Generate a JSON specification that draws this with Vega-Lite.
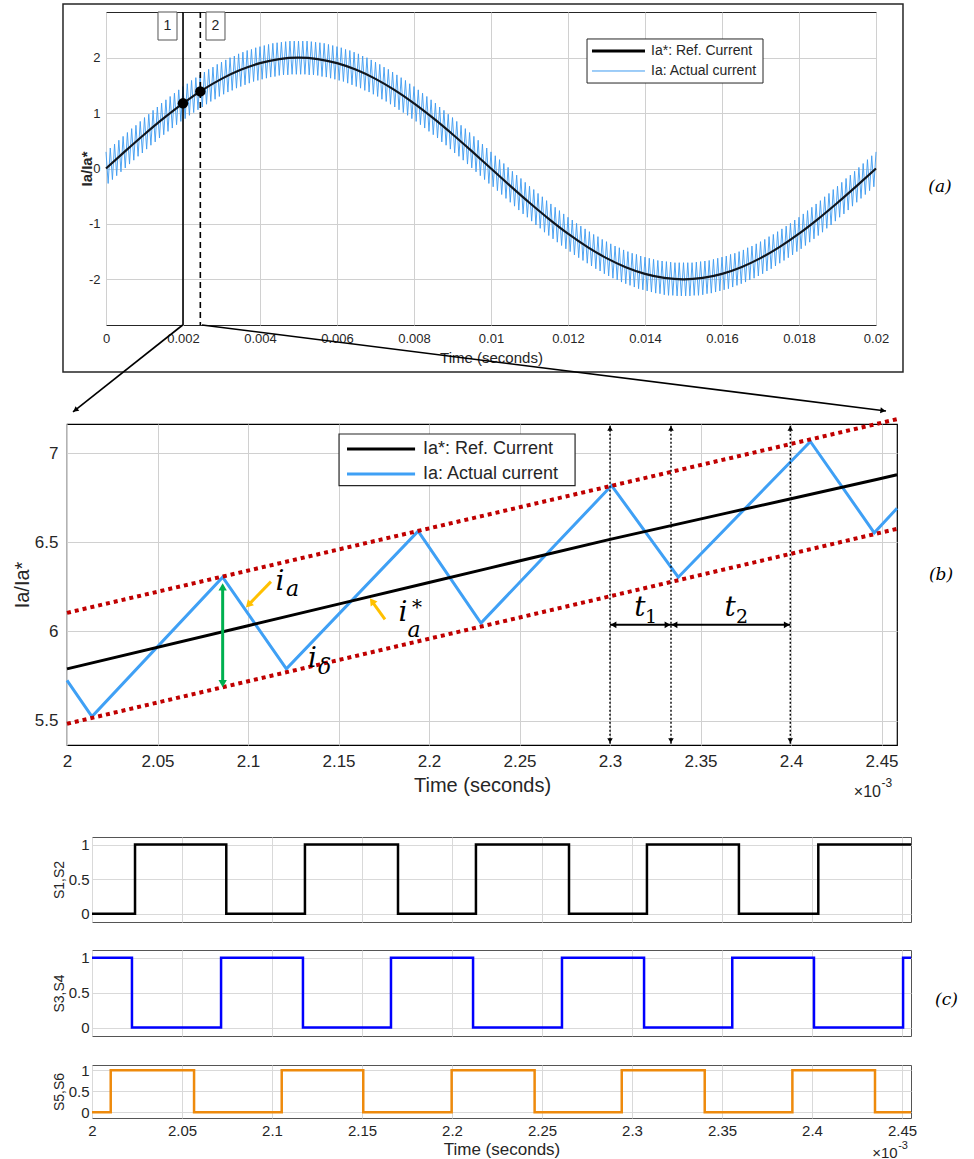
{
"$schema": "https://vega.github.io/schema/vega-lite/v6.json",
"background": "white",
"padding": 0,
"spacing": 0,
"config": {
  "font": "Liberation Sans",
  "axis": {"labelFont": "Liberation Sans", "titleFont": "Liberation Sans", "labelColor": "#262626", "titleColor": "#262626", "titleFontWeight": "normal", "gridColor": "#d0d0d0", "gridWidth": 1, "ticks": false, "domain": false, "labelFlush": false, "labelOverlap": false}
},
"datasets": {
  "aIa": [{"t":0,"v":0.3},{"t":0.0000556,"v":-0.27},{"t":0.0001111,"v":0.37},{"t":0.0001667,"v":-0.2},{"t":0.0002222,"v":0.44},{"t":0.0002778,"v":-0.13},{"t":0.0003333,"v":0.51},{"t":0.0003889,"v":-0.06},{"t":0.0004444,"v":0.58},{"t":0.0005,"v":0.01},{"t":0.0005556,"v":0.65},{"t":0.0006111,"v":0.08},{"t":0.0006667,"v":0.72},{"t":0.0007222,"v":0.15},{"t":0.0007778,"v":0.78},{"t":0.0008333,"v":0.22},{"t":0.0008889,"v":0.85},{"t":0.0009444,"v":0.28},
{"t":0.001,"v":0.92},{"t":0.0010556,"v":0.35},{"t":0.0011111,"v":0.98},{"t":0.0011667,"v":0.42},{"t":0.0012222,"v":1.05},{"t":0.0012778,"v":0.48},{"t":0.0013333,"v":1.11},{"t":0.0013889,"v":0.55},{"t":0.0014444,"v":1.18},{"t":0.0015,"v":0.61},{"t":0.0015556,"v":1.24},{"t":0.0016111,"v":0.67},{"t":0.0016667,"v":1.3},{"t":0.0017222,"v":0.73},{"t":0.0017778,"v":1.36},{"t":0.0018333,"v":0.79},{"t":0.0018889,"v":1.42},{"t":0.0019444,"v":0.85},
{"t":0.002,"v":1.48},{"t":0.0020556,"v":0.9},{"t":0.0021111,"v":1.53},{"t":0.0021667,"v":0.96},{"t":0.0022222,"v":1.59},{"t":0.0022778,"v":1.01},{"t":0.0023333,"v":1.64},{"t":0.0023889,"v":1.06},{"t":0.0024444,"v":1.69},{"t":0.0025,"v":1.11},{"t":0.0025556,"v":1.74},{"t":0.0026111,"v":1.16},{"t":0.0026667,"v":1.79},{"t":0.0027222,"v":1.21},{"t":0.0027778,"v":1.83},{"t":0.0028333,"v":1.25},{"t":0.0028889,"v":1.88},{"t":0.0029444,"v":1.3},
{"t":0.003,"v":1.92},{"t":0.0030556,"v":1.34},{"t":0.0031111,"v":1.96},{"t":0.0031667,"v":1.38},{"t":0.0032222,"v":2.0},{"t":0.0032778,"v":1.41},{"t":0.0033333,"v":2.03},{"t":0.0033889,"v":1.45},{"t":0.0034444,"v":2.07},{"t":0.0035,"v":1.48},{"t":0.0035556,"v":2.1},{"t":0.0036111,"v":1.51},{"t":0.0036667,"v":2.13},{"t":0.0037222,"v":1.54},{"t":0.0037778,"v":2.15},{"t":0.0038333,"v":1.57},{"t":0.0038889,"v":2.18},{"t":0.0039444,"v":1.59},
{"t":0.004,"v":2.2},{"t":0.0040556,"v":1.61},{"t":0.0041111,"v":2.22},{"t":0.0041667,"v":1.63},{"t":0.0042222,"v":2.24},{"t":0.0042778,"v":1.65},{"t":0.0043333,"v":2.26},{"t":0.0043889,"v":1.66},{"t":0.0044444,"v":2.27},{"t":0.0045,"v":1.68},{"t":0.0045556,"v":2.28},{"t":0.0046111,"v":1.69},{"t":0.0046667,"v":2.29},{"t":0.0047222,"v":1.69},{"t":0.0047778,"v":2.3},{"t":0.0048333,"v":1.7},{"t":0.0048889,"v":2.3},{"t":0.0049444,"v":1.7},
{"t":0.005,"v":2.3},{"t":0.0050556,"v":1.7},{"t":0.0051111,"v":2.3},{"t":0.0051667,"v":1.7},{"t":0.0052222,"v":2.3},{"t":0.0052778,"v":1.69},{"t":0.0053333,"v":2.29},{"t":0.0053889,"v":1.69},{"t":0.0054444,"v":2.28},{"t":0.0055,"v":1.68},{"t":0.0055556,"v":2.27},{"t":0.0056111,"v":1.66},{"t":0.0056667,"v":2.26},{"t":0.0057222,"v":1.65},{"t":0.0057778,"v":2.24},{"t":0.0058333,"v":1.63},{"t":0.0058889,"v":2.22},{"t":0.0059444,"v":1.61},
{"t":0.006,"v":2.2},{"t":0.0060556,"v":1.59},{"t":0.0061111,"v":2.18},{"t":0.0061667,"v":1.57},{"t":0.0062222,"v":2.15},{"t":0.0062778,"v":1.54},{"t":0.0063333,"v":2.13},{"t":0.0063889,"v":1.51},{"t":0.0064444,"v":2.1},{"t":0.0065,"v":1.48},{"t":0.0065556,"v":2.07},{"t":0.0066111,"v":1.45},{"t":0.0066667,"v":2.03},{"t":0.0067222,"v":1.41},{"t":0.0067778,"v":2.0},{"t":0.0068333,"v":1.38},{"t":0.0068889,"v":1.96},{"t":0.0069444,"v":1.34},
{"t":0.007,"v":1.92},{"t":0.0070556,"v":1.3},{"t":0.0071111,"v":1.88},{"t":0.0071667,"v":1.25},{"t":0.0072222,"v":1.83},{"t":0.0072778,"v":1.21},{"t":0.0073333,"v":1.79},{"t":0.0073889,"v":1.16},{"t":0.0074444,"v":1.74},{"t":0.0075,"v":1.11},{"t":0.0075556,"v":1.69},{"t":0.0076111,"v":1.06},{"t":0.0076667,"v":1.64},{"t":0.0077222,"v":1.01},{"t":0.0077778,"v":1.59},{"t":0.0078333,"v":0.96},{"t":0.0078889,"v":1.53},{"t":0.0079444,"v":0.9},
{"t":0.008,"v":1.48},{"t":0.0080556,"v":0.85},{"t":0.0081111,"v":1.42},{"t":0.0081667,"v":0.79},{"t":0.0082222,"v":1.36},{"t":0.0082778,"v":0.73},{"t":0.0083333,"v":1.3},{"t":0.0083889,"v":0.67},{"t":0.0084444,"v":1.24},{"t":0.0085,"v":0.61},{"t":0.0085556,"v":1.18},{"t":0.0086111,"v":0.55},{"t":0.0086667,"v":1.11},{"t":0.0087222,"v":0.48},{"t":0.0087778,"v":1.05},{"t":0.0088333,"v":0.42},{"t":0.0088889,"v":0.98},{"t":0.0089444,"v":0.35},
{"t":0.009,"v":0.92},{"t":0.0090556,"v":0.28},{"t":0.0091111,"v":0.85},{"t":0.0091667,"v":0.22},{"t":0.0092222,"v":0.78},{"t":0.0092778,"v":0.15},{"t":0.0093333,"v":0.72},{"t":0.0093889,"v":0.08},{"t":0.0094444,"v":0.65},{"t":0.0095,"v":0.01},{"t":0.0095556,"v":0.58},{"t":0.0096111,"v":-0.06},{"t":0.0096667,"v":0.51},{"t":0.0097222,"v":-0.13},{"t":0.0097778,"v":0.44},{"t":0.0098333,"v":-0.2},{"t":0.0098889,"v":0.37},{"t":0.0099444,"v":-0.27},
{"t":0.01,"v":0.3},{"t":0.0100556,"v":-0.33},{"t":0.0101111,"v":0.23},{"t":0.0101667,"v":-0.4},{"t":0.0102222,"v":0.16},{"t":0.0102778,"v":-0.47},{"t":0.0103333,"v":0.09},{"t":0.0103889,"v":-0.54},{"t":0.0104444,"v":0.02},{"t":0.0105,"v":-0.61},{"t":0.0105556,"v":-0.05},{"t":0.0106111,"v":-0.68},{"t":0.0106667,"v":-0.12},{"t":0.0107222,"v":-0.75},{"t":0.0107778,"v":-0.18},{"t":0.0108333,"v":-0.82},{"t":0.0108889,"v":-0.25},{"t":0.0109444,"v":-0.88},
{"t":0.011,"v":-0.32},{"t":0.0110556,"v":-0.95},{"t":0.0111111,"v":-0.38},{"t":0.0111667,"v":-1.02},{"t":0.0112222,"v":-0.45},{"t":0.0112778,"v":-1.08},{"t":0.0113333,"v":-0.51},{"t":0.0113889,"v":-1.15},{"t":0.0114444,"v":-0.58},{"t":0.0115,"v":-1.21},{"t":0.0115556,"v":-0.64},{"t":0.0116111,"v":-1.27},{"t":0.0116667,"v":-0.7},{"t":0.0117222,"v":-1.33},{"t":0.0117778,"v":-0.76},{"t":0.0118333,"v":-1.39},{"t":0.0118889,"v":-0.82},{"t":0.0119444,"v":-1.45},
{"t":0.012,"v":-0.88},{"t":0.0120556,"v":-1.5},{"t":0.0121111,"v":-0.93},{"t":0.0121667,"v":-1.56},{"t":0.0122222,"v":-0.99},{"t":0.0122778,"v":-1.61},{"t":0.0123333,"v":-1.04},{"t":0.0123889,"v":-1.66},{"t":0.0124444,"v":-1.09},{"t":0.0125,"v":-1.71},{"t":0.0125556,"v":-1.14},{"t":0.0126111,"v":-1.76},{"t":0.0126667,"v":-1.19},{"t":0.0127222,"v":-1.81},{"t":0.0127778,"v":-1.23},{"t":0.0128333,"v":-1.85},{"t":0.0128889,"v":-1.28},{"t":0.0129444,"v":-1.9},
{"t":0.013,"v":-1.32},{"t":0.0130556,"v":-1.94},{"t":0.0131111,"v":-1.36},{"t":0.0131667,"v":-1.98},{"t":0.0132222,"v":-1.4},{"t":0.0132778,"v":-2.01},{"t":0.0133333,"v":-1.43},{"t":0.0133889,"v":-2.05},{"t":0.0134444,"v":-1.47},{"t":0.0135,"v":-2.08},{"t":0.0135556,"v":-1.5},{"t":0.0136111,"v":-2.11},{"t":0.0136667,"v":-1.53},{"t":0.0137222,"v":-2.14},{"t":0.0137778,"v":-1.55},{"t":0.0138333,"v":-2.17},{"t":0.0138889,"v":-1.58},{"t":0.0139444,"v":-2.19},
{"t":0.014,"v":-1.6},{"t":0.0140556,"v":-2.21},{"t":0.0141111,"v":-1.62},{"t":0.0141667,"v":-2.23},{"t":0.0142222,"v":-1.64},{"t":0.0142778,"v":-2.25},{"t":0.0143333,"v":-1.66},{"t":0.0143889,"v":-2.26},{"t":0.0144444,"v":-1.67},{"t":0.0145,"v":-2.28},{"t":0.0145556,"v":-1.68},{"t":0.0146111,"v":-2.29},{"t":0.0146667,"v":-1.69},{"t":0.0147222,"v":-2.29},{"t":0.0147778,"v":-1.7},{"t":0.0148333,"v":-2.3},{"t":0.0148889,"v":-1.7},{"t":0.0149444,"v":-2.3},
{"t":0.015,"v":-1.7},{"t":0.0150556,"v":-2.3},{"t":0.0151111,"v":-1.7},{"t":0.0151667,"v":-2.3},{"t":0.0152222,"v":-1.7},{"t":0.0152778,"v":-2.29},{"t":0.0153333,"v":-1.69},{"t":0.0153889,"v":-2.29},{"t":0.0154444,"v":-1.68},{"t":0.0155,"v":-2.28},{"t":0.0155556,"v":-1.67},{"t":0.0156111,"v":-2.26},{"t":0.0156667,"v":-1.66},{"t":0.0157222,"v":-2.25},{"t":0.0157778,"v":-1.64},{"t":0.0158333,"v":-2.23},{"t":0.0158889,"v":-1.62},{"t":0.0159444,"v":-2.21},
{"t":0.016,"v":-1.6},{"t":0.0160556,"v":-2.19},{"t":0.0161111,"v":-1.58},{"t":0.0161667,"v":-2.17},{"t":0.0162222,"v":-1.55},{"t":0.0162778,"v":-2.14},{"t":0.0163333,"v":-1.53},{"t":0.0163889,"v":-2.11},{"t":0.0164444,"v":-1.5},{"t":0.0165,"v":-2.08},{"t":0.0165556,"v":-1.47},{"t":0.0166111,"v":-2.05},{"t":0.0166667,"v":-1.43},{"t":0.0167222,"v":-2.01},{"t":0.0167778,"v":-1.4},{"t":0.0168333,"v":-1.98},{"t":0.0168889,"v":-1.36},{"t":0.0169444,"v":-1.94},
{"t":0.017,"v":-1.32},{"t":0.0170556,"v":-1.9},{"t":0.0171111,"v":-1.28},{"t":0.0171667,"v":-1.85},{"t":0.0172222,"v":-1.23},{"t":0.0172778,"v":-1.81},{"t":0.0173333,"v":-1.19},{"t":0.0173889,"v":-1.76},{"t":0.0174444,"v":-1.14},{"t":0.0175,"v":-1.71},{"t":0.0175556,"v":-1.09},{"t":0.0176111,"v":-1.66},{"t":0.0176667,"v":-1.04},{"t":0.0177222,"v":-1.61},{"t":0.0177778,"v":-0.99},{"t":0.0178333,"v":-1.56},{"t":0.0178889,"v":-0.93},{"t":0.0179444,"v":-1.5},
{"t":0.018,"v":-0.88},{"t":0.0180556,"v":-1.45},{"t":0.0181111,"v":-0.82},{"t":0.0181667,"v":-1.39},{"t":0.0182222,"v":-0.76},{"t":0.0182778,"v":-1.33},{"t":0.0183333,"v":-0.7},{"t":0.0183889,"v":-1.27},{"t":0.0184444,"v":-0.64},{"t":0.0185,"v":-1.21},{"t":0.0185556,"v":-0.58},{"t":0.0186111,"v":-1.15},{"t":0.0186667,"v":-0.51},{"t":0.0187222,"v":-1.08},{"t":0.0187778,"v":-0.45},{"t":0.0188333,"v":-1.02},{"t":0.0188889,"v":-0.38},{"t":0.0189444,"v":-0.95},
{"t":0.019,"v":-0.32},{"t":0.0190556,"v":-0.88},{"t":0.0191111,"v":-0.25},{"t":0.0191667,"v":-0.82},{"t":0.0192222,"v":-0.18},{"t":0.0192778,"v":-0.75},{"t":0.0193333,"v":-0.12},{"t":0.0193889,"v":-0.68},{"t":0.0194444,"v":-0.05},{"t":0.0195,"v":-0.61},{"t":0.0195556,"v":0.02},{"t":0.0196111,"v":-0.54},{"t":0.0196667,"v":0.09},{"t":0.0197222,"v":-0.47},{"t":0.0197778,"v":0.16},{"t":0.0198333,"v":-0.4},{"t":0.0198889,"v":0.23},{"t":0.0199444,"v":-0.33},
{"t":0.02,"v":0.3}],
  "aRef": [{"t":0,"v":0},{"t":0.0005,"v":0.313},{"t":0.001,"v":0.618},{"t":0.0015,"v":0.908},{"t":0.002,"v":1.176},{"t":0.0025,"v":1.414},{"t":0.003,"v":1.618},{"t":0.0035,"v":1.782},{"t":0.004,"v":1.902},{"t":0.0045,"v":1.975},{"t":0.005,"v":2},{"t":0.0055,"v":1.975},{"t":0.006,"v":1.902},{"t":0.0065,"v":1.782},{"t":0.007,"v":1.618},{"t":0.0075,"v":1.414},{"t":0.008,"v":1.176},{"t":0.0085,"v":0.908},{"t":0.009,"v":0.618},{"t":0.0095,"v":0.313},{"t":0.01,"v":0},{"t":0.0105,"v":-0.313},{"t":0.011,"v":-0.618},{"t":0.0115,"v":-0.908},{"t":0.012,"v":-1.176},{"t":0.0125,"v":-1.414},{"t":0.013,"v":-1.618},{"t":0.0135,"v":-1.782},{"t":0.014,"v":-1.902},{"t":0.0145,"v":-1.975},{"t":0.015,"v":-2},{"t":0.0155,"v":-1.975},{"t":0.016,"v":-1.902},{"t":0.0165,"v":-1.782},{"t":0.017,"v":-1.618},{"t":0.0175,"v":-1.414},{"t":0.018,"v":-1.176},{"t":0.0185,"v":-0.908},{"t":0.019,"v":-0.618},{"t":0.0195,"v":-0.313},{"t":0.02,"v":0}],
  "aMark": [{"t":-0.0027117,"v":3.0235,"v2":-4.4386}],
  "aFrame": [{"t":-0.001117,"t2":0.020701,"v":2.969,"v2":-3.673}],
  "aCur1": [{"t":0.002,"v":2.825,"v2":-2.825}],
  "aCur2": [{"t":0.00245,"v":2.825,"v2":-2.825}],
  "aBoxes": [{"t":0.0013506,"t2":0.0018442,"v":2.825,"v2":2.3195},{"t":0.0025974,"t2":0.0030909,"v":2.825,"v2":2.3195}],
  "aBoxText": [{"t":0.0015974,"v":2.57,"s":"1"},{"t":0.0028442,"v":2.57,"s":"2"}],
  "aDots": [{"t":0.002,"v":1.176},{"t":0.00245,"v":1.392}],
  "aLegBox": [{"t":0.012494,"t2":0.017065,"v":2.338,"v2":1.543}],
  "aLegRef": [{"t":0.012623,"t2":0.014,"v":2.121}],
  "aLegIa": [{"t":0.012623,"t2":0.014,"v":1.76}],
  "aLegText": [{"t":0.014156,"v":2.121,"s":"Ia*: Ref. Current"},{"t":0.014156,"v":1.76,"s":"Ia: Actual current"}],
  "aConn": [{"t":0.001992,"v":-2.825,"t2":-0.000857,"v2":-4.395},{"t":0.0024935,"v":-2.825,"t2":0.02026,"v2":-4.377}],
  "aHeadL": [{"t":-0.000796,"v":-4.361}],
  "aHeadR": [{"t":0.020182,"v":-4.37}],
  "aTag": [{"t":0.021662,"v":-0.334,"s":"(a)"}],
  "bMark": [{"t":1.96442,"v":7.2045,"v2":4.9794}],
  "bIa": [{"t":2.0,"v":5.725},{"t":2.0138,"v":5.522},{"t":2.086,"v":6.304},{"t":2.1212,"v":5.79},{"t":2.194,"v":6.562},{"t":2.2287,"v":6.047},{"t":2.3009,"v":6.818},{"t":2.3377,"v":6.304},{"t":2.4107,"v":7.065},{"t":2.446,"v":6.553},{"t":2.45856,"v":6.69}],
  "bRef": [{"t":2.0,"v":5.79},{"t":2.1,"v":6.032},{"t":2.2,"v":6.274},{"t":2.3,"v":6.516},{"t":2.4,"v":6.744},{"t":2.45856,"v":6.878}],
  "bBand": [{"t":2.0,"v":6.104,"t2":2.45856,"v2":7.19},{"t":2.0,"v":5.482,"t2":2.45856,"v2":6.575}],
  "bVert": [{"t":2.3,"v":5.37,"v2":7.158},{"t":2.3337,"v":5.37,"v2":7.158},{"t":2.3996,"v":5.37,"v2":7.158}],
  "bUp": [{"t":2.3,"v":7.139},{"t":2.3337,"v":7.139},{"t":2.3996,"v":7.139}],
  "bDown": [{"t":2.3,"v":5.388},{"t":2.3337,"v":5.388},{"t":2.3996,"v":5.388}],
  "bHor": [{"t":2.3,"t2":2.3337,"v":6.037},{"t":2.3337,"t2":2.3996,"v":6.037}],
  "bLeftH": [{"t":2.30193,"v":6.037},{"t":2.33563,"v":6.037}],
  "bRightH": [{"t":2.33177,"v":6.037},{"t":2.39767,"v":6.037}],
  "bGreen": [{"t":2.086,"v":6.249,"v2":5.707}],
  "bGreenUp": [{"t":2.086,"v":6.249}],
  "bGreenDown": [{"t":2.086,"v":5.707}],
  "bOrange": [{"t":2.1127,"v":6.279,"t2":2.1,"v2":6.146},{"t":2.17569,"v":6.068,"t2":2.16851,"v2":6.169}],
  "bOrangeH1": [{"t":2.10022,"v":6.149}],
  "bOrangeH2": [{"t":2.16851,"v":6.17}],
  "bMain": [{"t":2.11768,"v":6.23,"s":"i"},{"t":2.13564,"v":5.798,"s":"i"},{"t":2.18564,"v":6.061,"s":"i"},{"t":2.31657,"v":6.088,"s":"t"},{"t":2.3663,"v":6.088,"s":"t"}],
  "bSub": [{"t":2.12459,"v":6.196,"s":"a"},{"t":2.14227,"v":5.759,"s":"δ"},{"t":2.19171,"v":5.971,"s":"a"}],
  "bSubNum": [{"t":2.32265,"v":6.046,"s":"1"},{"t":2.37293,"v":6.046,"s":"2"}],
  "bStar": [{"t":2.19337,"v":6.098,"s":"*"}],
  "bLegBox": [{"t":2.1503,"t2":2.2807,"v":7.107,"v2":6.818}],
  "bLegRef": [{"t":2.1547,"t2":2.1923,"v":7.023}],
  "bLegIa": [{"t":2.1547,"t2":2.1923,"v":6.883}],
  "bLegText": [{"t":2.1967,"v":7.023,"s":"Ia*: Ref. Current"},{"t":2.1967,"v":6.883,"s":"Ia: Actual current"}],
  "bExp": [{"t":2.44972,"v":5.069,"s":"×10"}],
  "bExpSup": [{"t":2.45,"v":5.125,"s":"-3"}],
  "bTag": [{"t":2.48287,"v":6.314,"s":"(b)"}],
  "c1Mark": [{"t":1.949778,"v":1.4197,"v2":-0.3139}],
  "c2Mark": [{"t":1.949778,"v":1.3017,"v2":-0.3116}],
  "c3Mark": [{"t":1.949778,"v":1.4689,"v2":-1.1694}],
  "c1": [{"t":2.0,"v":0},{"t":2.0239,"v":1},{"t":2.0746,"v":0},{"t":2.1183,"v":1},{"t":2.17,"v":0},{"t":2.2133,"v":1},{"t":2.265,"v":0},{"t":2.3083,"v":1},{"t":2.3594,"v":0},{"t":2.4035,"v":1},{"t":2.455,"v":1}],
  "c2": [{"t":2.0,"v":1},{"t":2.0222,"v":0},{"t":2.0717,"v":1},{"t":2.1172,"v":0},{"t":2.1661,"v":1},{"t":2.2117,"v":0},{"t":2.2611,"v":1},{"t":2.3067,"v":0},{"t":2.3557,"v":1},{"t":2.4011,"v":0},{"t":2.4506,"v":1},{"t":2.455,"v":1}],
  "c3": [{"t":2.0,"v":0},{"t":2.0104,"v":1},{"t":2.0567,"v":0},{"t":2.1054,"v":1},{"t":2.1507,"v":0},{"t":2.1998,"v":1},{"t":2.2459,"v":0},{"t":2.2943,"v":1},{"t":2.3404,"v":0},{"t":2.3891,"v":1},{"t":2.435,"v":0},{"t":2.455,"v":0}],
  "cTag": [{"t":2.4747,"v":0.399,"s":"(c)"}],
  "cExp": [{"t":2.44761,"v":-1.088,"s":"×10"}],
  "cExpSup": [{"t":2.44789,"v":-0.874,"s":"-3"}]
},
"vconcat": [
{"spacing": 0, "hconcat": [
  {"width": 1, "height": 1, "view": {"stroke": null}, "data": {"values": []}, "mark": "point"},
  {"width": 770, "height": 313,
   "view": {"stroke": "#262626", "strokeWidth": 1},
   "encoding": {
     "x": {"field": "t", "type": "quantitative", "scale": {"domain": [0, 0.02], "nice": false, "zero": false},
           "axis": {"values": [0,0.002,0.004,0.006,0.008,0.01,0.012,0.014,0.016,0.018,0.02], "format": "~g", "labelFontSize": 13, "labelPadding": 7, "title": "Time (seconds)", "titleFontSize": 15, "titlePadding": 5}},
     "y": {"field": "v", "type": "quantitative", "scale": {"domain": [-2.825, 2.825], "nice": false, "zero": false},
           "axis": {"values": [-2,-1,0,1,2], "format": "~g", "labelExpr": "replace(datum.label, '−', '-')", "labelFontSize": 13, "labelPadding": 6, "title": "Ia/Ia*", "titleFontSize": 15, "titleFontWeight": "bold", "titleX": -12, "titleY": 156.5, "titleAngle": 270, "titleBaseline": "bottom", "titleAlign": "center"}}
   },
   "layer": [
     {"data": {"name": "aMark"}, "mark": {"type": "rule", "opacity": 0, "strokeWidth": 0}, "encoding": {"y2": {"field": "v2"}}},
     {"data": {"name": "aFrame"}, "mark": {"type": "rect", "filled": false, "stroke": "#262626", "strokeWidth": 1.5}, "encoding": {"x2": {"field": "t2"}, "y2": {"field": "v2"}}},
     {"data": {"name": "aIa"}, "mark": {"type": "line", "color": "#3d9bf0", "strokeWidth": 0.9}, "encoding": {}},
     {"data": {"name": "aRef"}, "mark": {"type": "line", "color": "#10161e", "strokeWidth": 2.2, "interpolate": "monotone"}, "encoding": {}},
     {"data": {"name": "aCur1"}, "mark": {"type": "rule", "color": "#000", "strokeWidth": 1.6}, "encoding": {"y2": {"field": "v2"}}},
     {"data": {"name": "aCur2"}, "mark": {"type": "rule", "color": "#000", "strokeWidth": 1.6, "strokeDash": [6, 4]}, "encoding": {"y2": {"field": "v2"}}},
     {"data": {"name": "aBoxes"}, "mark": {"type": "rect", "fill": "white", "stroke": "#555", "strokeWidth": 1}, "encoding": {"x2": {"field": "t2"}, "y2": {"field": "v2"}}},
     {"data": {"name": "aBoxText"}, "mark": {"type": "text", "font": "Liberation Sans", "fontSize": 14, "align": "center", "baseline": "middle", "color": "#262626"}, "encoding": {"text": {"field": "s"}}},
     {"data": {"name": "aDots"}, "mark": {"type": "point", "filled": true, "color": "#000", "size": 110, "opacity": 1}, "encoding": {}},
     {"data": {"name": "aLegBox"}, "mark": {"type": "rect", "fill": "white", "stroke": "#262626", "strokeWidth": 1}, "encoding": {"x2": {"field": "t2"}, "y2": {"field": "v2"}}},
     {"data": {"name": "aLegRef"}, "mark": {"type": "rule", "color": "#000", "strokeWidth": 3}, "encoding": {"x2": {"field": "t2"}}},
     {"data": {"name": "aLegIa"}, "mark": {"type": "rule", "color": "#3d9bf0", "strokeWidth": 1}, "encoding": {"x2": {"field": "t2"}}},
     {"data": {"name": "aLegText"}, "mark": {"type": "text", "font": "Liberation Sans", "fontSize": 14, "align": "left", "baseline": "middle", "color": "#262626"}, "encoding": {"text": {"field": "s"}}},
     {"data": {"name": "aConn"}, "mark": {"type": "rule", "color": "#000", "strokeWidth": 1.6}, "encoding": {"x2": {"field": "t2"}, "y2": {"field": "v2"}}},
     {"data": {"name": "aHeadL"}, "mark": {"type": "point", "shape": "triangle-up", "filled": true, "color": "#000", "size": 36, "angle": 231.6, "opacity": 1}, "encoding": {}},
     {"data": {"name": "aHeadR"}, "mark": {"type": "point", "shape": "triangle-up", "filled": true, "color": "#000", "size": 36, "angle": 97.2, "opacity": 1}, "encoding": {}},
     {"data": {"name": "aTag"}, "mark": {"type": "text", "font": "DejaVu Serif", "fontStyle": "italic", "fontSize": 17, "align": "center", "baseline": "middle", "color": "#000"}, "encoding": {"text": {"field": "s"}}}
   ]
  }
]},
{"spacing": 0, "hconcat": [
  {"width": 1, "height": 1, "view": {"stroke": null}, "data": {"values": []}, "mark": "point"},
  {"width": 830, "height": 321,
   "view": {"stroke": "#000", "strokeWidth": 1.2},
   "encoding": {
     "x": {"field": "t", "type": "quantitative", "scale": {"domain": [2, 2.45856], "nice": false, "zero": false},
           "axis": {"values": [2,2.05,2.1,2.15,2.2,2.25,2.3,2.35,2.4,2.45], "format": "~g", "labelFontSize": 17, "labelPadding": 8, "title": "Time (seconds)", "titleFontSize": 20, "titlePadding": 6}},
     "y": {"field": "v", "type": "quantitative", "scale": {"domain": [5.363, 7.163], "nice": false, "zero": false},
           "axis": {"values": [5.5,6,6.5,7], "format": "~g", "labelFontSize": 17, "labelPadding": 9, "title": "Ia/Ia*", "titleFontSize": 20, "titleX": -35, "titleY": 160.5, "titleAngle": 270, "titleBaseline": "bottom", "titleAlign": "center"}}
   },
   "layer": [
     {"data": {"name": "bMark"}, "mark": {"type": "rule", "opacity": 0, "strokeWidth": 0}, "encoding": {"y2": {"field": "v2"}}},
     {"data": {"name": "bIa"}, "mark": {"type": "line", "color": "#3fa0f5", "strokeWidth": 3}, "encoding": {}},
     {"data": {"name": "bRef"}, "mark": {"type": "line", "color": "#000", "strokeWidth": 3, "interpolate": "monotone"}, "encoding": {}},
     {"data": {"name": "bBand"}, "mark": {"type": "rule", "color": "#c00000", "strokeWidth": 4, "strokeDash": [4, 4]}, "encoding": {"x2": {"field": "t2"}, "y2": {"field": "v2"}}},
     {"data": {"name": "bVert"}, "mark": {"type": "rule", "color": "#000", "strokeWidth": 1.4, "strokeDash": [2, 2]}, "encoding": {"y2": {"field": "v2"}}},
     {"data": {"name": "bUp"}, "mark": {"type": "point", "shape": "triangle-up", "filled": true, "color": "#000", "size": 30, "opacity": 1}, "encoding": {}},
     {"data": {"name": "bDown"}, "mark": {"type": "point", "shape": "triangle-down", "filled": true, "color": "#000", "size": 30, "opacity": 1}, "encoding": {}},
     {"data": {"name": "bHor"}, "mark": {"type": "rule", "color": "#000", "strokeWidth": 2}, "encoding": {"x2": {"field": "t2"}}},
     {"data": {"name": "bLeftH"}, "mark": {"type": "point", "shape": "triangle-left", "filled": true, "color": "#000", "size": 45, "opacity": 1}, "encoding": {}},
     {"data": {"name": "bRightH"}, "mark": {"type": "point", "shape": "triangle-right", "filled": true, "color": "#000", "size": 45, "opacity": 1}, "encoding": {}},
     {"data": {"name": "bGreen"}, "mark": {"type": "rule", "color": "#00b050", "strokeWidth": 3}, "encoding": {"y2": {"field": "v2"}}},
     {"data": {"name": "bGreenUp"}, "mark": {"type": "point", "shape": "triangle-up", "filled": true, "color": "#00b050", "size": 70, "opacity": 1}, "encoding": {}},
     {"data": {"name": "bGreenDown"}, "mark": {"type": "point", "shape": "triangle-down", "filled": true, "color": "#00b050", "size": 70, "opacity": 1}, "encoding": {}},
     {"data": {"name": "bOrange"}, "mark": {"type": "rule", "color": "#ffc000", "strokeWidth": 3}, "encoding": {"x2": {"field": "t2"}, "y2": {"field": "v2"}}},
     {"data": {"name": "bOrangeH1"}, "mark": {"type": "point", "shape": "triangle-up", "filled": true, "color": "#ffc000", "size": 70, "angle": 224.2, "opacity": 1}, "encoding": {}},
     {"data": {"name": "bOrangeH2"}, "mark": {"type": "point", "shape": "triangle-up", "filled": true, "color": "#ffc000", "size": 70, "angle": 324.5, "opacity": 1}, "encoding": {}},
     {"data": {"name": "bMain"}, "mark": {"type": "text", "font": "DejaVu Serif", "fontStyle": "italic", "fontSize": 28, "align": "center", "baseline": "alphabetic", "color": "#000"}, "encoding": {"text": {"field": "s"}}},
     {"data": {"name": "bSub"}, "mark": {"type": "text", "font": "DejaVu Serif", "fontStyle": "italic", "fontSize": 22, "align": "center", "baseline": "alphabetic", "color": "#000"}, "encoding": {"text": {"field": "s"}}},
     {"data": {"name": "bSubNum"}, "mark": {"type": "text", "font": "DejaVu Serif", "fontSize": 19, "align": "center", "baseline": "alphabetic", "color": "#000"}, "encoding": {"text": {"field": "s"}}},
     {"data": {"name": "bStar"}, "mark": {"type": "text", "font": "DejaVu Serif", "fontSize": 20, "align": "center", "baseline": "alphabetic", "color": "#000"}, "encoding": {"text": {"field": "s"}}},
     {"data": {"name": "bLegBox"}, "mark": {"type": "rect", "fill": "white", "stroke": "#262626", "strokeWidth": 1.2}, "encoding": {"x2": {"field": "t2"}, "y2": {"field": "v2"}}},
     {"data": {"name": "bLegRef"}, "mark": {"type": "rule", "color": "#000", "strokeWidth": 3}, "encoding": {"x2": {"field": "t2"}}},
     {"data": {"name": "bLegIa"}, "mark": {"type": "rule", "color": "#3fa0f5", "strokeWidth": 3}, "encoding": {"x2": {"field": "t2"}}},
     {"data": {"name": "bLegText"}, "mark": {"type": "text", "font": "Liberation Sans", "fontSize": 18, "align": "left", "baseline": "middle", "color": "#262626"}, "encoding": {"text": {"field": "s"}}},
     {"data": {"name": "bExp"}, "mark": {"type": "text", "font": "Liberation Sans", "fontSize": 16, "align": "right", "baseline": "alphabetic", "color": "#262626"}, "encoding": {"text": {"field": "s"}}},
     {"data": {"name": "bExpSup"}, "mark": {"type": "text", "font": "Liberation Sans", "fontSize": 12, "align": "left", "baseline": "alphabetic", "color": "#262626"}, "encoding": {"text": {"field": "s"}}},
     {"data": {"name": "bTag"}, "mark": {"type": "text", "font": "DejaVu Serif", "fontStyle": "italic", "fontSize": 17, "align": "center", "baseline": "middle", "color": "#000"}, "encoding": {"text": {"field": "s"}}}
   ]
  }
]},
{"spacing": 0, "hconcat": [
  {"width": 1, "height": 1, "view": {"stroke": null}, "data": {"values": []}, "mark": "point"},
  {"width": 819, "height": 85,
   "view": {"stroke": "#555", "strokeWidth": 1},
   "encoding": {
     "x": {"field": "t", "type": "quantitative", "scale": {"domain": [2, 2.455], "nice": false, "zero": false},
           "axis": {"values": [2,2.05,2.1,2.15,2.2,2.25,2.3,2.35,2.4,2.45], "labels": false, "title": null, "gridColor": "#d9d9d9"}},
     "y": {"field": "v", "type": "quantitative", "scale": {"domain": [-0.12, 1.11], "nice": false, "zero": false},
           "axis": {"values": [0,0.5,1], "format": "~g", "labelFontSize": 15, "labelPadding": 3, "gridColor": "#d9d9d9", "title": "S1,S2", "titleFontSize": 14, "titleX": -26, "titleY": 42.5, "titleAngle": 270, "titleBaseline": "bottom", "titleAlign": "center"}}
   },
   "layer": [
     {"data": {"name": "c1Mark"}, "mark": {"type": "rule", "opacity": 0, "strokeWidth": 0}, "encoding": {"y2": {"field": "v2"}}},
     {"data": {"name": "c1"}, "mark": {"type": "line", "interpolate": "step-after", "color": "#000", "strokeWidth": 2.5}, "encoding": {}}
   ]
  }
]},
{"spacing": 0, "hconcat": [
  {"width": 1, "height": 1, "view": {"stroke": null}, "data": {"values": []}, "mark": "point"},
  {"width": 819, "height": 86,
   "view": {"stroke": "#555", "strokeWidth": 1},
   "encoding": {
     "x": {"field": "t", "type": "quantitative", "scale": {"domain": [2, 2.455], "nice": false, "zero": false},
           "axis": {"values": [2,2.05,2.1,2.15,2.2,2.25,2.3,2.35,2.4,2.45], "labels": false, "title": null, "gridColor": "#d9d9d9"}},
     "y": {"field": "v", "type": "quantitative", "scale": {"domain": [-0.12, 1.11], "nice": false, "zero": false},
           "axis": {"values": [0,0.5,1], "format": "~g", "labelFontSize": 15, "labelPadding": 3, "gridColor": "#d9d9d9", "title": "S3,S4", "titleFontSize": 14, "titleX": -26, "titleY": 43, "titleAngle": 270, "titleBaseline": "bottom", "titleAlign": "center"}}
   },
   "layer": [
     {"data": {"name": "c2Mark"}, "mark": {"type": "rule", "opacity": 0, "strokeWidth": 0}, "encoding": {"y2": {"field": "v2"}}},
     {"data": {"name": "c2"}, "mark": {"type": "line", "interpolate": "step-after", "color": "#0000ff", "strokeWidth": 2.5}, "encoding": {}},
     {"data": {"name": "cTag"}, "mark": {"type": "text", "font": "DejaVu Serif", "fontStyle": "italic", "fontSize": 17, "align": "center", "baseline": "middle", "color": "#000"}, "encoding": {"text": {"field": "s"}}}
   ]
  }
]},
{"spacing": 0, "hconcat": [
  {"width": 1, "height": 1, "view": {"stroke": null}, "data": {"values": []}, "mark": "point"},
  {"width": 819, "height": 53,
   "view": {"stroke": "#555", "strokeWidth": 1},
   "encoding": {
     "x": {"field": "t", "type": "quantitative", "scale": {"domain": [2, 2.455], "nice": false, "zero": false},
           "axis": {"values": [2,2.05,2.1,2.15,2.2,2.25,2.3,2.35,2.4,2.45], "format": "~g", "labelFontSize": 15, "labelPadding": 5, "gridColor": "#d9d9d9", "title": "Time (seconds)", "titleFontSize": 17, "titlePadding": 3}},
     "y": {"field": "v", "type": "quantitative", "scale": {"domain": [-0.136, 1.126], "nice": false, "zero": false},
           "axis": {"values": [0,0.5,1], "format": "~g", "labelFontSize": 15, "labelPadding": 3, "gridColor": "#d9d9d9", "title": "S5,S6", "titleFontSize": 14, "titleX": -26, "titleY": 26.5, "titleAngle": 270, "titleBaseline": "bottom", "titleAlign": "center"}}
   },
   "layer": [
     {"data": {"name": "c3Mark"}, "mark": {"type": "rule", "opacity": 0, "strokeWidth": 0}, "encoding": {"y2": {"field": "v2"}}},
     {"data": {"name": "c3"}, "mark": {"type": "line", "interpolate": "step-after", "color": "#ee8a0c", "strokeWidth": 2.5}, "encoding": {}},
     {"data": {"name": "cExp"}, "mark": {"type": "text", "font": "Liberation Sans", "fontSize": 15, "align": "right", "baseline": "alphabetic", "color": "#262626"}, "encoding": {"text": {"field": "s"}}},
     {"data": {"name": "cExpSup"}, "mark": {"type": "text", "font": "Liberation Sans", "fontSize": 11, "align": "left", "baseline": "alphabetic", "color": "#262626"}, "encoding": {"text": {"field": "s"}}}
   ]
  }
]}
]
}
